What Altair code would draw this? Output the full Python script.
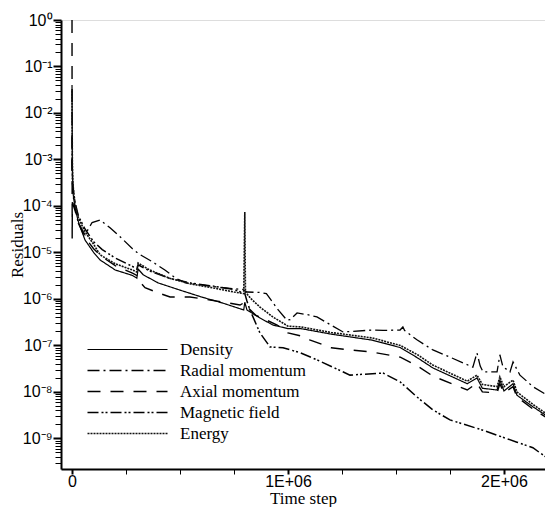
import altair as alt
import pandas as pd

series_names = ["Density", "Radial momentum", "Axial momentum", "Magnetic field", "Energy"]

density_t = [0, 1500, 4000, 14000, 30000, 60000, 100000, 130000, 200000, 280000, 300000, 306000,
             330000, 400000, 500000, 600000, 700000, 795000, 800000, 810000, 870000, 930000,
             1000000, 1060000, 1200000, 1390000, 1520000, 1600000, 1670000, 1830000, 1875000,
             1900000, 1968000, 1981000, 2000000, 2042000, 2060000, 2134000, 2200000]
density_r = [4e-2, 8e-4, 2e-4, 9e-5, 4.5e-5, 1.86e-5, 1.0e-5, 6.9e-6, 4.2e-6, 3.2e-6, 2.8e-6, 4.4e-6,
             3.3e-6, 2.2e-6, 1.55e-6, 1.1e-6, 8.1e-7, 5.8e-7, 8.5e-7, 5.8e-7, 3.9e-7, 2.75e-7,
             2.3e-7, 2.3e-7, 1.75e-7, 1.3e-7, 9.0e-8, 5.4e-8, 3.3e-8, 1.5e-8, 2.0e-8,
             1.2e-8, 1.1e-8, 1.8e-8, 1.05e-8, 1.5e-8, 8.5e-9, 4.8e-9, 3.0e-9]

radial_t = [0, 2000, 8000, 28000, 60000, 93000, 130000, 176000, 231000, 280000, 310000, 370000,
            430000, 480000, 530000, 600000, 700000, 790000, 810000, 870000, 900000, 950000, 995000,
            1010000, 1042000, 1100000, 1134000, 1255000, 1394000, 1440000, 1519000, 1532000,
            1540000, 1597000, 1671000, 1750000, 1856000, 1875000, 1890000, 1903000, 1968000,
            1981000, 1995000, 2028000, 2042000, 2074000, 2134000, 2200000]
radial_r = [3e-3, 4e-4, 1.2e-4, 4.5e-5, 2.4e-5, 4.4e-5, 5.0e-5, 3.4e-5, 2.0e-5, 1.2e-5, 9.3e-6, 6.4e-6,
            4.2e-6, 2.8e-6, 2.2e-6, 2.0e-6, 1.74e-6, 1.6e-6, 1.41e-6, 1.38e-6, 1.3e-6, 6.2e-7, 3.5e-7,
            3.6e-7, 5.0e-7, 4.5e-7, 4.1e-7, 1.95e-7, 2.15e-7, 2.1e-7, 2.15e-7, 2.5e-7,
            2.1e-7, 1.32e-7, 8.0e-8, 5.6e-8, 3.4e-8, 6.9e-8, 3.6e-8, 2.7e-8, 2.7e-8,
            6.3e-8, 3.5e-8, 2.7e-8, 4.4e-8, 2.3e-8, 1.3e-8, 8.5e-9]

axial_t = [0, 800, 1500, 14000, 30000, 60000, 100000, 140000, 200000, 280000, 300000, 306000,
           338000, 400000, 454000, 546000, 640000, 731000, 778000, 800000, 815000, 850000, 950000,
           1000000, 1060000, 1100000, 1200000, 1290000, 1390000, 1520000, 1600000, 1670000,
           1830000, 1875000, 1900000, 1968000, 1981000, 2000000, 2042000, 2060000, 2134000, 2200000]
axial_r = [1.0, 2e-5, 1.2e-4, 8e-5, 4.2e-5, 2.1e-5, 1.2e-5, 8e-6, 5.2e-6, 3.6e-6, 3.2e-6, 2.6e-6,
           1.74e-6, 1.35e-6, 1.1e-6, 1.1e-6, 9.5e-7, 8.1e-7, 7.4e-7, 8.5e-7, 6.5e-7, 4.5e-7, 2.75e-7,
           1.86e-7, 1.6e-7, 1.32e-7, 8.9e-8, 8.0e-8, 7.2e-8, 5.6e-8, 3.6e-8, 2.2e-8,
           1.1e-8, 1.55e-8, 1.0e-8, 9.5e-9, 1.5e-8, 9.5e-9, 1.3e-8, 7.8e-9, 4.3e-9, 2.75e-9]

magnetic_t = [0, 2000, 14000, 30000, 60000, 100000, 140000, 200000, 280000, 300000, 306000, 360000,
              450000, 550000, 650000, 750000, 800000, 810000, 824000, 870000, 917000, 977000,
              1056000, 1134000, 1287000, 1440000, 1519000, 1597000, 1671000, 1750000, 1903000,
              2060000, 2134000, 2200000]
magnetic_r = [1e-3, 3e-4, 1.2e-4, 6e-5, 3.2e-5, 1.7e-5, 1.15e-5, 7.6e-6, 5.0e-6, 4.4e-6, 5.4e-6, 4.0e-6,
              2.8e-6, 2.2e-6, 1.9e-6, 1.6e-6, 1.3e-6, 9e-7, 5.8e-7, 1.86e-7, 9.3e-8, 8.9e-8,
              7.0e-8, 4.9e-8, 2.3e-8, 2.55e-8, 1.65e-8, 7.8e-9, 4.1e-9, 2.5e-9, 1.5e-9,
              8.3e-10, 6.3e-10, 3.8e-10]

energy_t = [0, 1500, 4000, 14000, 30000, 60000, 100000, 130000, 200000, 280000, 300000, 306000,
            360000, 450000, 550000, 650000, 750000, 795000, 800000, 803000, 830000, 870000, 930000,
            1000000, 1060000, 1200000, 1390000, 1520000, 1600000, 1670000, 1830000, 1875000,
            1900000, 1968000, 1981000, 2000000, 2042000, 2060000, 2134000, 2200000]
energy_r = [3e-2, 1e-3, 3e-4, 1.1e-4, 5.5e-5, 2.8e-5, 1.5e-5, 8.9e-6, 5.7e-6, 4.2e-6, 3.8e-6, 5.9e-6,
            4.2e-6, 2.8e-6, 2.1e-6, 1.74e-6, 1.41e-6, 1.3e-6, 7.4e-5, 1.4e-6, 1.0e-6, 6.7e-7, 4.1e-7,
            2.6e-7, 2.5e-7, 1.9e-7, 1.45e-7, 1.0e-7, 6.3e-8, 3.8e-8, 1.7e-8, 2.3e-8,
            1.45e-8, 1.3e-8, 2.1e-8, 1.3e-8, 1.8e-8, 1.0e-8, 5.4e-9, 3.3e-9]

x_ticks = [0, 250000, 500000, 750000, 1000000, 1250000, 1500000, 1750000, 2000000]
decade_labels = ["10⁰", "10⁻¹", "10⁻²", "10⁻³", "10⁻⁴", "10⁻⁵", "10⁻⁶", "10⁻⁷", "10⁻⁸", "10⁻⁹"]

rows = []
for name, ts, rs in [("Density", density_t, density_r),
                     ("Radial momentum", radial_t, radial_r),
                     ("Axial momentum", axial_t, axial_r),
                     ("Magnetic field", magnetic_t, magnetic_r),
                     ("Energy", energy_t, energy_r)]:
    for i, (t, r) in enumerate(zip(ts, rs)):
        rows.append({"series": name, "step": t, "res": r, "idx": i})
df = pd.DataFrame(rows)

y_ticks = []
for k in range(0, -11, -1):
    for m in range(1, 10):
        v = m * 10.0 ** k
        if 2.2e-10 <= v <= 1.0:
            y_ticks.append(v)

expo = "round(-log(datum.value)/LN10)"
is_decade = "abs(log(datum.value)/LN10 - round(log(datum.value)/LN10)) < 0.001"
lab = "''"
for k in range(len(decade_labels) - 1, -1, -1):
    lab = f"({expo} == {k} ? '{decade_labels[k]}' : {lab})"
y_label_expr = f"{is_decade} ? {lab} : ''"

x_label_expr = ("datum.value == 0 ? '0' : (datum.value % 1000000 == 0 ? "
                "(format(datum.value/1000000, 'd') + 'E+06') : '')")
x_major = "datum.value % 1000000 == 0"


def make_legend():
    return alt.Legend(orient="none", legendX=18, legendY=321, title=None,
                      symbolType="M0,0H80", symbolSize=4,
                      labelFont="Liberation Serif", labelFontSize=17,
                      labelColor="black", labelOffset=84, rowPadding=3,
                      padding=0)


chart = alt.Chart(df).mark_line(clip=True).encode(
    x=alt.X("step:Q",
            scale=alt.Scale(domain=[-51000, 2190000], nice=False, zero=False),
            axis=alt.Axis(values=x_ticks, labelExpr=x_label_expr, grid=False,
                          title="Time step", titleFont="Liberation Serif", titleFontSize=17,
                          titleFontWeight="normal", titleColor="black",
                          titleY=34, titleBaseline="alphabetic",
                          labelFont="Liberation Sans", labelFontSize=16, labelColor="black",
                          labelPadding=-1, tickSize=5,
                          tickWidth={"condition": {"test": x_major, "value": 2}, "value": 1},
                          domainWidth=2, domainColor="black", tickColor="black",
                          labelFlush=False, labelOverlap=False)),
    y=alt.Y("res:Q",
            scale=alt.Scale(type="log", domain=[2.2e-10, 1.0], nice=False),
            axis=alt.Axis(values=y_ticks, labelExpr=y_label_expr, grid=False,
                          title="Residuals", titleFont="Liberation Serif", titleFontSize=17,
                          titleFontWeight="normal", titleColor="black",
                          titleX=-39, titleBaseline="alphabetic",
                          labelFont="Liberation Sans", labelFontSize=16, labelColor="black",
                          labelPadding=1,
                          tickSize={"condition": {"test": is_decade, "value": 8}, "value": 6},
                          tickWidth={"condition": {"test": is_decade, "value": 2}, "value": 1},
                          domainWidth=2, domainColor="black", tickColor="black",
                          labelFlush=False, labelOverlap=False)),
    color=alt.Color("series:N",
                    scale=alt.Scale(domain=series_names,
                                    range=["black", "black", "black", "black", "#111111"]),
                    legend=make_legend()),
    strokeDash=alt.StrokeDash("series:N",
                              scale=alt.Scale(domain=series_names,
                                              range=[[1, 0], [12, 4, 2, 4], [13, 10],
                                                     [11, 3, 2, 2, 2, 3], [2, 1]]),
                              legend=make_legend()),
    strokeWidth=alt.StrokeWidth("series:N",
                                scale=alt.Scale(domain=series_names,
                                                range=[1.2, 1.6, 1.4, 1.5, 2.6]),
                                legend=make_legend()),
    order="idx:Q",
).properties(
    width=484, height=449,
    autosize=alt.AutoSizeParams(type="none"),
    padding={"left": 53, "top": 12, "right": 0, "bottom": 38},
).configure_view(stroke=None).configure(background="white")

chart.save("out.html", embed_options={"renderer": "svg", "actions": False})
